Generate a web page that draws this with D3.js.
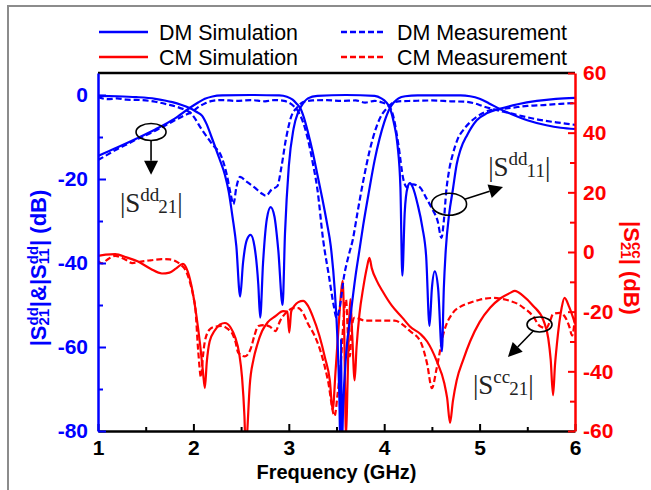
<!DOCTYPE html>
<html>
<head>
<meta charset="utf-8">
<script src="https://cdnjs.cloudflare.com/ajax/libs/d3/7.8.5/d3.min.js"></script>
<style>
  body { margin: 0; background: #fff; }
  svg { display: block; }
</style>
</head>
<body>
<svg id="chart" width="651" height="490"></svg>
<script>
// ---- data: [frequency GHz, dB] ----
const dmS21Sim = [
  [1.0,-14.5],[1.2,-12.5],[1.4,-10.4],[1.6,-8.2],[1.8,-5.7],[1.96,-3.1],[2.05,-1.8],[2.12,-0.9],
  [2.2,-0.35],[2.3,-0.1],[2.6,0],[2.9,-0.1],[2.98,-0.4],[3.04,-1.1],[3.08,-2],[3.12,-3.1],
  [3.16,-5.5],[3.2,-8.8],[3.25,-13.5],[3.3,-19],[3.35,-24.5],[3.4,-30.5],[3.44,-36],[3.48,-46],
  [3.51,-58],[3.53,-72],[3.54,-84],[3.548,-58],[3.556,-84],[3.57,-74],[3.6,-62],[3.65,-52],
  [3.7,-43],[3.74,-37],[3.78,-31],[3.84,-23],[3.9,-15.5],[3.95,-10.5],[4.0,-6.5],[4.03,-4.6],
  [4.06,-3.1],[4.1,-1.8],[4.15,-0.8],[4.22,-0.3],[4.35,-0.1],[4.8,-0.1],[4.9,-0.3],[5.0,-0.9],
  [5.1,-2],[5.21,-3.3],[5.35,-4.7],[5.5,-6],[5.7,-7.2],[5.85,-7.8],[6.0,-8.1]
]
const dmS21Meas = [
  [1.0,-15.5],[1.1,-14.2],[1.2,-12.9],[1.3,-11.8],[1.4,-10.6],[1.5,-9.6],[1.6,-8.5],[1.7,-7.3],
  [1.8,-6.1],[1.9,-4.9],[1.98,-4.1],[2.05,-2.9],[2.12,-2],[2.2,-1.4],[2.3,-1.2],[2.45,-1.4],
  [2.6,-1.2],[2.75,-1.5],[2.85,-1.2],[2.95,-1.4],[3.0,-1.8],[3.05,-2.6],[3.1,-4],[3.15,-6.5],
  [3.2,-10.5],[3.25,-16],[3.3,-22.5],[3.36,-34.5],[3.42,-43],[3.47,-50],[3.5,-53],[3.53,-51],
  [3.58,-43],[3.63,-38],[3.67,-34.5],[3.72,-28],[3.78,-20.5],[3.85,-13],[3.92,-7.5],[3.98,-4.5],
  [4.03,-3.1],[4.08,-2],[4.15,-1.5],[4.3,-1.4],[4.5,-1.3],[4.7,-1.5],[4.85,-1.6],[4.95,-2],
  [5.05,-2.8],[5.15,-3.4],[5.25,-4],[5.35,-4.5],[5.5,-5.3],[5.65,-6],[5.8,-6.5],[5.9,-6.8],[6.0,-7.1]
]
const dmS11Sim = [
  [1.0,-0.2],[1.2,-0.3],[1.4,-0.5],[1.6,-0.9],[1.7,-1.3],[1.78,-1.7],[1.87,-2.3],[1.96,-3.1],
  [2.03,-4],[2.09,-4.9],[2.14,-7],[2.19,-10],[2.27,-15],[2.33,-19],[2.37,-23],[2.41,-29],
  [2.45,-36],[2.49,-48],[2.52,-40],[2.56,-34.5],[2.6,-33.3],[2.64,-36],[2.68,-45],[2.7,-53],
  [2.73,-40],[2.77,-29.5],[2.81,-26.7],[2.85,-29],[2.89,-37],[2.935,-50],[2.96,-33],[3.0,-17],
  [3.05,-8],[3.1,-4],[3.15,-2],[3.2,-0.8],[3.3,-0.2],[3.6,0],[3.9,-0.2],[3.97,-0.8],[4.02,-1.7],
  [4.06,-3.1],[4.1,-6.5],[4.14,-12],[4.17,-22],[4.19,-43],[4.215,-28],[4.245,-22],[4.27,-21],
  [4.3,-22],[4.35,-26],[4.4,-31.5],[4.44,-38.5],[4.475,-55],[4.5,-46],[4.53,-42],[4.565,-46],
  [4.605,-61],[4.625,-46],[4.645,-37],[4.68,-28.5],[4.72,-22.5],[4.76,-16.5],[4.8,-13],[4.87,-9.5],
  [4.97,-6],[5.08,-4.3],[5.21,-3.3],[5.4,-2.2],[5.6,-1.4],[5.8,-0.9],[6.0,-0.7]
]
const dmS11Meas = [
  [1.0,-0.5],[1.1,-1],[1.2,-0.8],[1.3,-1.1],[1.45,-1.2],[1.6,-1.6],[1.72,-2.2],[1.85,-3],
  [1.98,-4.5],[2.09,-8.3],[2.2,-11.8],[2.3,-15],[2.35,-19],[2.39,-23.5],[2.42,-26],[2.45,-22],
  [2.49,-19.5],[2.55,-20.5],[2.64,-22],[2.72,-23.5],[2.76,-24],[2.82,-22.5],[2.88,-21.7],
  [2.92,-17.5],[2.97,-10.5],[3.02,-5.5],[3.09,-2.9],[3.15,-1.7],[3.25,-1.3],[3.4,-1.2],
  [3.55,-1.4],[3.7,-1.3],[3.8,-1.8],[3.9,-1.4],[3.98,-1.8],[4.05,-2.6],[4.1,-5.5],[4.15,-12],
  [4.2,-20],[4.24,-22],[4.3,-21.3],[4.375,-22],[4.44,-24.5],[4.5,-27],[4.56,-30],[4.6,-34],
  [4.625,-30],[4.65,-23],[4.68,-18],[4.72,-14],[4.77,-10.5],[4.83,-8.3],[4.9,-6.5],[4.97,-5.2],
  [5.1,-3.7],[5.2,-3.4],[5.35,-3],[5.5,-2.6],[5.67,-2.4],[5.85,-2.1],[6.0,-1.9]
]
const cmS21Sim = [
  [1.0,-1.3],[1.08,-0.9],[1.18,-0.7],[1.3,-1.8],[1.42,-3.2],[1.55,-5.6],[1.67,-7.2],[1.75,-6.9],
  [1.82,-5.5],[1.89,-4],[1.94,-6.5],[1.99,-13],[2.03,-21],[2.07,-31],[2.1,-40],[2.12,-45.6],
  [2.14,-37],[2.17,-30],[2.22,-26.5],[2.28,-24.3],[2.33,-23.8],[2.39,-25.3],[2.44,-28.8],
  [2.48,-34],[2.51,-42],[2.535,-55],[2.55,-68],[2.565,-60],[2.59,-45],[2.63,-36],[2.67,-31],
  [2.72,-26.5],[2.78,-23.5],[2.86,-21.5],[2.94,-19.8],[2.985,-20],[3.005,-27],[3.025,-20],
  [3.06,-18],[3.1,-16.8],[3.15,-16.4],[3.2,-18],[3.25,-21.5],[3.32,-28],[3.38,-35.5],[3.43,-43],
  [3.46,-53],[3.49,-40],[3.52,-26],[3.55,-13],[3.565,-9.7],[3.58,-25],[3.6,-62],[3.615,-45],
  [3.63,-25],[3.645,-15.8],[3.665,-28],[3.69,-43],[3.71,-32],[3.74,-21],[3.78,-12],[3.82,-5],
  [3.845,-2],[3.87,-5.5],[3.92,-9.5],[3.98,-13],[4.08,-18],[4.19,-22],[4.27,-25],[4.38,-27.5],
  [4.45,-30],[4.55,-36.5],[4.63,-44],[4.66,-49],[4.69,-57.3],[4.72,-50],[4.76,-43],[4.83,-36],
  [4.9,-30],[5.0,-23.5],[5.11,-18.7],[5.22,-15.5],[5.32,-13.7],[5.37,-13],[5.45,-14.5],
  [5.56,-18],[5.67,-23],[5.72,-29],[5.745,-36],[5.77,-48],[5.79,-38],[5.81,-31],[5.86,-18.7],
  [5.89,-15.4],[5.94,-18.5],[5.98,-22],[6.0,-24]
]
const cmS21Meas = [
  [1.0,-3],[1.04,-3.8],[1.1,-2.5],[1.18,-1.3],[1.28,-2.4],[1.36,-3.7],[1.45,-3.2],[1.55,-2.8],
  [1.67,-2.4],[1.75,-2.5],[1.81,-3],[1.87,-4.3],[1.91,-5.7],[1.96,-9.7],[2.0,-15],[2.02,-18.7],
  [2.05,-33],[2.08,-42],[2.1,-35],[2.12,-30],[2.17,-26],[2.23,-25],[2.3,-24.8],[2.36,-25.8],
  [2.41,-27.5],[2.44,-30],[2.47,-33.8],[2.54,-35],[2.6,-32.5],[2.64,-28],[2.68,-24.8],
  [2.75,-24.5],[2.8,-25],[2.86,-26.5],[2.91,-23],[2.99,-19.8],[3.05,-18.8],[3.1,-18.8],
  [3.15,-20.5],[3.2,-24],[3.27,-28],[3.33,-33],[3.41,-43],[3.48,-55],[3.51,-48],[3.55,-35],
  [3.58,-20],[3.6,-16],[3.62,-28],[3.64,-35],[3.66,-25],[3.69,-22],[3.8,-23],[3.95,-23],
  [4.11,-23],[4.2,-24.5],[4.27,-26.5],[4.38,-30],[4.45,-37.5],[4.5,-45.6],[4.55,-39],
  [4.62,-27.5],[4.72,-20.4],[4.8,-18.3],[4.9,-17],[5.0,-16],[5.14,-15.4],[5.25,-15.8],
  [5.32,-16.4],[5.4,-17.4],[5.46,-18.7],[5.56,-21.5],[5.63,-24.8],[5.7,-25.5],[5.74,-23],
  [5.77,-20.8],[5.84,-20.4],[5.9,-22],[5.94,-25],[5.97,-28],[6.0,-22]
]

const xTicks = [1, 2, 3, 4, 5, 6]
const xMinor = [1.5, 2.5, 3.5, 4.5, 5.5]
const leftTicks = [0, -20, -40, -60, -80]
const leftMinor = [-10, -30, -50, -70]
const rightTicks = [60, 40, 20, 0, -20, -40, -60]
const rightMinor = [50, 30, 10, -10, -30, -50]
const legendItems = [
  { label: 'DM Simulation', color: 'blue', dashed: false },
  { label: 'DM Measurement', color: 'blue', dashed: true },
  { label: 'CM Simulation', color: 'red', dashed: false },
  { label: 'CM Measurement', color: 'red', dashed: true }
]

// ---- setup ----
const BLUE = '#0000ff', RED = '#ff0000'
const SANS = 'Liberation Sans, Arial, sans-serif'
const SERIF = 'Liberation Serif, Times New Roman, serif'
const svg = d3.select('#chart')
const plot = { left: 98, right: 575, top: 73, bottom: 431 }

const x = d3.scaleLinear([1, 6], [plot.left, plot.right])
const yL = d3.scaleLinear([-80, 5.24], [plot.bottom, plot.top])
const yR = d3.scaleLinear([-60, 60], [plot.bottom, plot.top])

// screenshot frame (gray edge at top and left)
svg.append('path').attr('d', 'M8,490V6H651')
  .attr('fill', 'none').attr('stroke', '#8c8c8c').attr('stroke-width', 2)

svg.append('clipPath').attr('id', 'clip').append('rect')
  .attr('x', plot.left).attr('y', plot.top)
  .attr('width', plot.right - plot.left).attr('height', plot.bottom - plot.top)

const lineL = d3.line().x(d => x(d[0])).y(d => yL(d[1])).curve(d3.curveMonotoneX)
const lineR = d3.line().x(d => x(d[0])).y(d => yR(d[1])).curve(d3.curveMonotoneX)

const curves = svg.append('g').attr('clip-path', 'url(#clip)').attr('fill', 'none')
  .attr('stroke-width', 2.2).attr('stroke-linejoin', 'round')

const series = [
  { data: cmS21Meas, line: lineR, color: RED, dashed: true },
  { data: cmS21Sim, line: lineR, color: RED, dashed: false },
  { data: dmS11Meas, line: lineL, color: BLUE, dashed: true },
  { data: dmS21Meas, line: lineL, color: BLUE, dashed: true },
  { data: dmS11Sim, line: lineL, color: BLUE, dashed: false },
  { data: dmS21Sim, line: lineL, color: BLUE, dashed: false }
]
series.forEach(s => {
  curves.append('path').attr('d', s.line(s.data)).attr('stroke', s.color)
    .attr('stroke-dasharray', s.dashed ? '6,3' : null)
})

// ---- axes ----
function styleAxis(g, color) {
  g.attr('font-size', 21).attr('font-family', SANS).attr('font-weight', 'bold')
  g.select('.domain').attr('stroke', color).attr('stroke-width', 2.5)
  g.selectAll('.tick line').attr('stroke', color).attr('stroke-width', 2)
  g.selectAll('.tick text').attr('fill', color)
}
const fmt = d => String(d)

svg.append('line').attr('x1', plot.left).attr('x2', plot.right)
  .attr('y1', plot.top).attr('y2', plot.top).attr('stroke', '#000').attr('stroke-width', 2.5)

const gx = svg.append('g').attr('transform', `translate(0,${plot.bottom})`)
  .call(d3.axisBottom(x).tickValues(xTicks).tickFormat(fmt).tickSizeInner(-7).tickSizeOuter(0).tickPadding(9))
styleAxis(gx, '#000')
svg.append('g').attr('transform', `translate(0,${plot.bottom})`)
  .call(d3.axisBottom(x).tickValues(xMinor).tickFormat('').tickSizeInner(-4).tickSizeOuter(0))
  .call(g => { g.select('.domain').remove(); g.selectAll('line').attr('stroke', '#000').attr('stroke-width', 2) })

const gl = svg.append('g').attr('transform', `translate(${plot.left},0)`)
  .call(d3.axisLeft(yL).tickValues(leftTicks).tickFormat(fmt).tickSizeInner(-8).tickSizeOuter(0).tickPadding(10))
styleAxis(gl, BLUE)
svg.append('g').attr('transform', `translate(${plot.left},0)`)
  .call(d3.axisLeft(yL).tickValues(leftMinor).tickFormat('').tickSizeInner(-5).tickSizeOuter(0))
  .call(g => { g.select('.domain').remove(); g.selectAll('line').attr('stroke', BLUE).attr('stroke-width', 2) })

const gr = svg.append('g').attr('transform', `translate(${plot.right},0)`)
  .call(d3.axisRight(yR).tickValues(rightTicks).tickFormat(fmt).tickSizeInner(-7).tickSizeOuter(0).tickPadding(8))
styleAxis(gr, RED)
svg.append('g').attr('transform', `translate(${plot.right},0)`)
  .call(d3.axisRight(yR).tickValues(rightMinor).tickFormat('').tickSizeInner(-5).tickSizeOuter(0))
  .call(g => { g.select('.domain').remove(); g.selectAll('line').attr('stroke', RED).attr('stroke-width', 2) })

svg.append('text').attr('x', (plot.left + plot.right) / 2).attr('y', 479)
  .attr('text-anchor', 'middle').attr('font-family', SANS).attr('font-weight', 'bold')
  .attr('font-size', 20).text('Frequency (GHz)')

// rich text: sequential parts, optionally stacked super/subscripts
function rich(parent, parts, attrs) {
  const g = parent.append('g')
  Object.entries(attrs).forEach(([k, v]) => g.attr(k, v))
  let cx = 0
  parts.forEach(p => {
    const items = p.stack || [p]
    let w = 0
    items.forEach(it => {
      const t = g.append('text').attr('x', cx).attr('y', it.dy || 0)
        .attr('font-size', it.size).text(it.t)
      w = Math.max(w, t.node().getComputedTextLength())
    })
    cx += w + (p.gap || 0)
  })
  return { g, width: cx }
}

// left y label
const leftLab = rich(svg, [
  { t: '|S', size: 22 },
  { stack: [{ t: 'dd', size: 15, dy: -8 }, { t: '21', size: 15, dy: 3 }] },
  { t: '|&|S', size: 22 },
  { stack: [{ t: 'dd', size: 15, dy: -8 }, { t: '11', size: 15, dy: 3 }] },
  { t: '| (dB)', size: 22 }
], { 'font-family': SANS, 'font-weight': 'bold', fill: BLUE })
leftLab.g.attr('transform', `translate(46,268) rotate(-90) translate(${-leftLab.width / 2},0)`)

// right y label
const rightLab = rich(svg, [
  { t: '|S', size: 22 },
  { stack: [{ t: 'cc', size: 15, dy: -8 }, { t: '21', size: 15, dy: 3 }] },
  { t: '| (dB)', size: 22 }
], { 'font-family': SANS, 'font-weight': 'bold', fill: RED })
rightLab.g.attr('transform', `translate(624,268) rotate(90) translate(${-rightLab.width / 2},0)`)

// ---- legend ----
const legend = svg.append('g').attr('font-family', SANS).attr('font-size', 22)
legendItems.forEach((d, i) => {
  const col = i % 2, row = Math.floor(i / 2)
  const lx = col === 0 ? 99 : 341
  const len = col === 0 ? 49 : 45
  const ly = 32 + row * 25
  legend.append('line').attr('x1', lx).attr('x2', lx + len).attr('y1', ly).attr('y2', ly)
    .attr('stroke', d.color === 'blue' ? BLUE : RED).attr('stroke-width', 2.5)
    .attr('stroke-dasharray', d.dashed ? '6,3' : null)
  legend.append('text').attr('x', lx + len + 11).attr('y', ly + 8).text(d.label)
    .attr('textLength', col === 0 ? 139 : 170).attr('lengthAdjust', 'spacingAndGlyphs')
})

// ---- annotations ----
const ann = svg.append('g')
function arrow(x1, y1, x2, y2) {
  const dx = x2 - x1, dy = y2 - y1, L = Math.hypot(dx, dy)
  const ux = dx / L, uy = dy / L, hl = 14, hw = 7
  const bx = x2 - ux * hl, by = y2 - uy * hl
  ann.append('line').attr('x1', x1).attr('y1', y1).attr('x2', bx).attr('y2', by)
    .attr('stroke', '#000').attr('stroke-width', 1.6)
  ann.append('path')
    .attr('d', `M${x2},${y2}L${bx - uy * hw},${by + ux * hw}L${bx + uy * hw},${by - ux * hw}Z`)
    .attr('fill', '#000')
}
function ellipseArrow(cx, cy, rx, ry, tx, ty) {
  ann.append('ellipse').attr('cx', cx).attr('cy', cy).attr('rx', rx).attr('ry', ry)
    .attr('fill', 'none').attr('stroke', '#000').attr('stroke-width', 1.6)
  const a = Math.atan2((ty - cy) / ry, (tx - cx) / rx)
  arrow(cx + rx * Math.cos(a), cy + ry * Math.sin(a), tx, ty)
}
ellipseArrow(x(1.556), yL(-8.8), 15, 8.5, x(1.556), yL(-19))
ellipseArrow(x(4.68), yL(-26), 17.5, 11, x(5.245), yL(-21.9))
ellipseArrow(x(5.628), yR(-24.3), 12.5, 7.5, x(5.297), yR(-35.2))

function sLabel(sup, sub, px, py) {
  const lab = rich(ann, [
    { t: '|S', size: 27 },
    { t: sup, size: 19, dy: -11, gap: -1 },
    { t: sub, size: 19, dy: 1 },
    { t: '|', size: 27 }
  ], { 'font-family': SERIF, fill: '#222' })
  lab.g.attr('transform', `translate(${px},${py})`)
}
sLabel('dd', '21', x(1.23), yL(-27.9))
sLabel('dd', '11', x(5.09), yL(-19.3))
sLabel('cc', '21', x(4.93), yR(-47.6))
</script>
</body>
</html>
